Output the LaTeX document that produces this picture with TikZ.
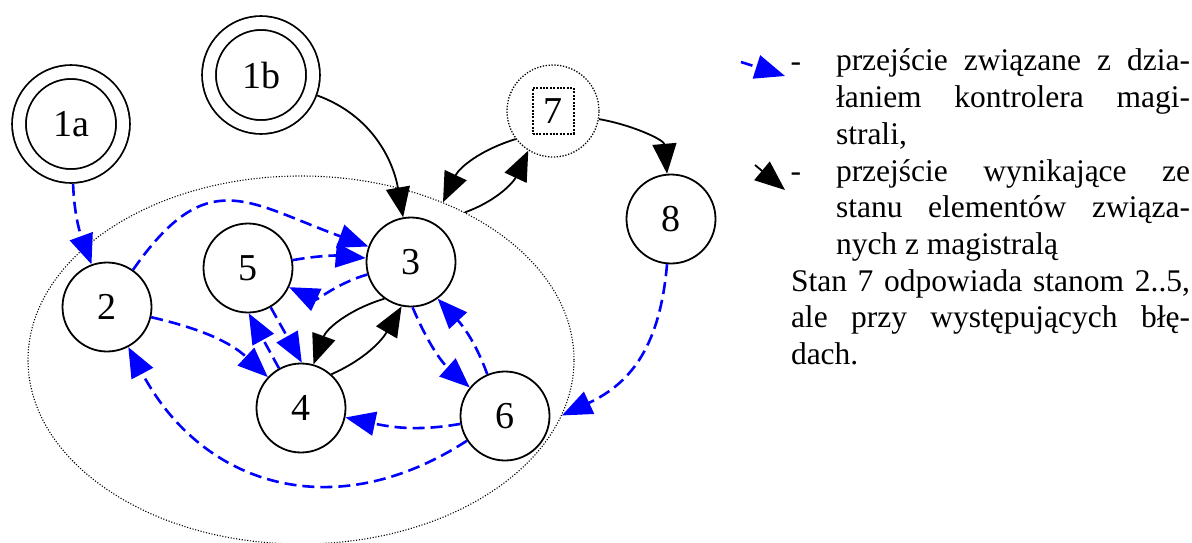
\documentclass[tikz,border=0pt]{standalone}
\usepackage{fontspec}
\setmainfont{Liberation Serif}
\usetikzlibrary{positioning, arrows.meta, shapes.geometric}
\tolerance=10000
\hyphenpenalty=10000
\tikzset{
    grot/.tip={Triangle[length=30pt, width=24pt]}, % big filled tips as in the drawing
    on grid, % node distances are measured between centres
    every node/.style={font=\fontsize{38}{42}\selectfont},
    }

\begin{document}
\begin{tikzpicture}[x=1pt, y=1pt,
    stan/.style={circle, draw, line width=1.8pt, minimum size=89pt, inner sep=0pt},
    startstan/.style={stan, double, double distance=12pt, minimum size=104pt, outer sep=7.8pt},
    bladstan/.style={stan, line width=1.3pt, dash pattern=on 1.3pt off 1.6pt, minimum size=92pt},
    ramka/.style={draw, line width=2pt, dash pattern=on 2pt off 1.4pt, minimum width=41pt, minimum height=46pt, inner sep=0pt},
    grupa/.style={ellipse, draw, line width=1.1pt, dash pattern=on 1.1pt off 1.7pt, minimum width=546pt, minimum height=368pt},
    ster/.style={-grot, blue, line width=2.6pt, dash pattern=on 12pt off 6pt},
    elem/.style={-grot, black, line width=1.8pt},
    opis/.style={font=\fontsize{31.5}{36.7}\selectfont, inner sep=0pt, outer sep=0pt},
    akapit/.style={opis, text width=354pt, align=justify}]
\useasboundingbox (0,0) rectangle (1192,-542);

\node[startstan] (1a) at (71,-124) {1a};
\node[startstan, above right=49pt and 190pt of 1a] (1b) {1b};
\node[stan, below right=183pt and 36pt of 1a] (2) {2};
\node[stan, above right=39pt and 141pt of 2] (5) {5};
\node[stan, above right=6pt and 163pt of 5] (3) {3};
\node[stan, below right=140pt and 53pt of 5] (4) {4};
\node[stan, below right=8pt and 204pt of 4] (6) {6};
\node[bladstan, above right=151pt and 142pt of 3] (7) {};
\node[ramka] (7k) at (7) {7};
\node[stan, below right=108pt and 118pt of 7] (8) {8};
\node[grupa, above=48pt of 4] (grp) {};

% bus controller transitions
\draw (1a) edge[ster, out=-88, in=110] (2)
(2) edge[ster, out=55, in=160, looseness=1.4] (3)
(5) edge[ster, out=10, in=175] (3)
(3) edge[ster, out=196, in=-25] (5)
(2) edge[ster, out=-13, in=137] (4)
(5.300) edge[ster] (4.89)
(4.119) edge[ster] (5.271)
(3.272) edge[ster, out=-67, in=138] (6.141)
(6.113) edge[ster, out=110, in=-47] (3.306)
(6) edge[ster, out=190, in=-12] (4)
(6) edge[ster, out=213, in=298, looseness=1.15] (2)
(8) edge[ster, out=265, in=25, looseness=1.1] (grp.-12);

% transitions from the state of the elements
\draw (1b) edge[elem, out=-20, in=100] (3)
(3.234) edge[elem, out=197, in=70] (4.74)
(4.48) edge[elem, out=24, in=240] (3.258)
(grp.42) edge[elem, out=20, in=245] (7.238)
(7.217) edge[elem, out=197, in=65] (grp.48)
(7) edge[elem, out=-10, in=95] (8);

% legend
\coordinate (k1) at (741,-62);
\coordinate (k2) at (785,-76);
\coordinate (k3) at (755,-165);
\coordinate (k4) at (785,-190);
\draw[ster] (k1) -- (k2);
\draw[elem] (k3) -- (k4);
\node[opis, anchor=base east] (m1) at (801,-71) {-};
\node[akapit, anchor=north west] (op1) at (836,-45.3) {\noindent\strut przejście związane z dzia-\linebreak łaniem kontrolera magi-\linebreak strali,\strut};
\node[opis, anchor=base east] (m2) at (801,-181) {-};
\node[akapit, anchor=north west] (op2) at (op1.south west) {\noindent\strut przejście wynikające ze\linebreak stanu elementów związa-\linebreak nych z magistralą\strut};
\node[akapit, text width=399pt, anchor=north west] (op3) at ([xshift=-45pt]op2.south west) {\noindent\strut Stan 7 odpowiada stanom 2..5,\linebreak ale przy występujących błę-\linebreak dach.\strut};
\end{tikzpicture}
\end{document}
